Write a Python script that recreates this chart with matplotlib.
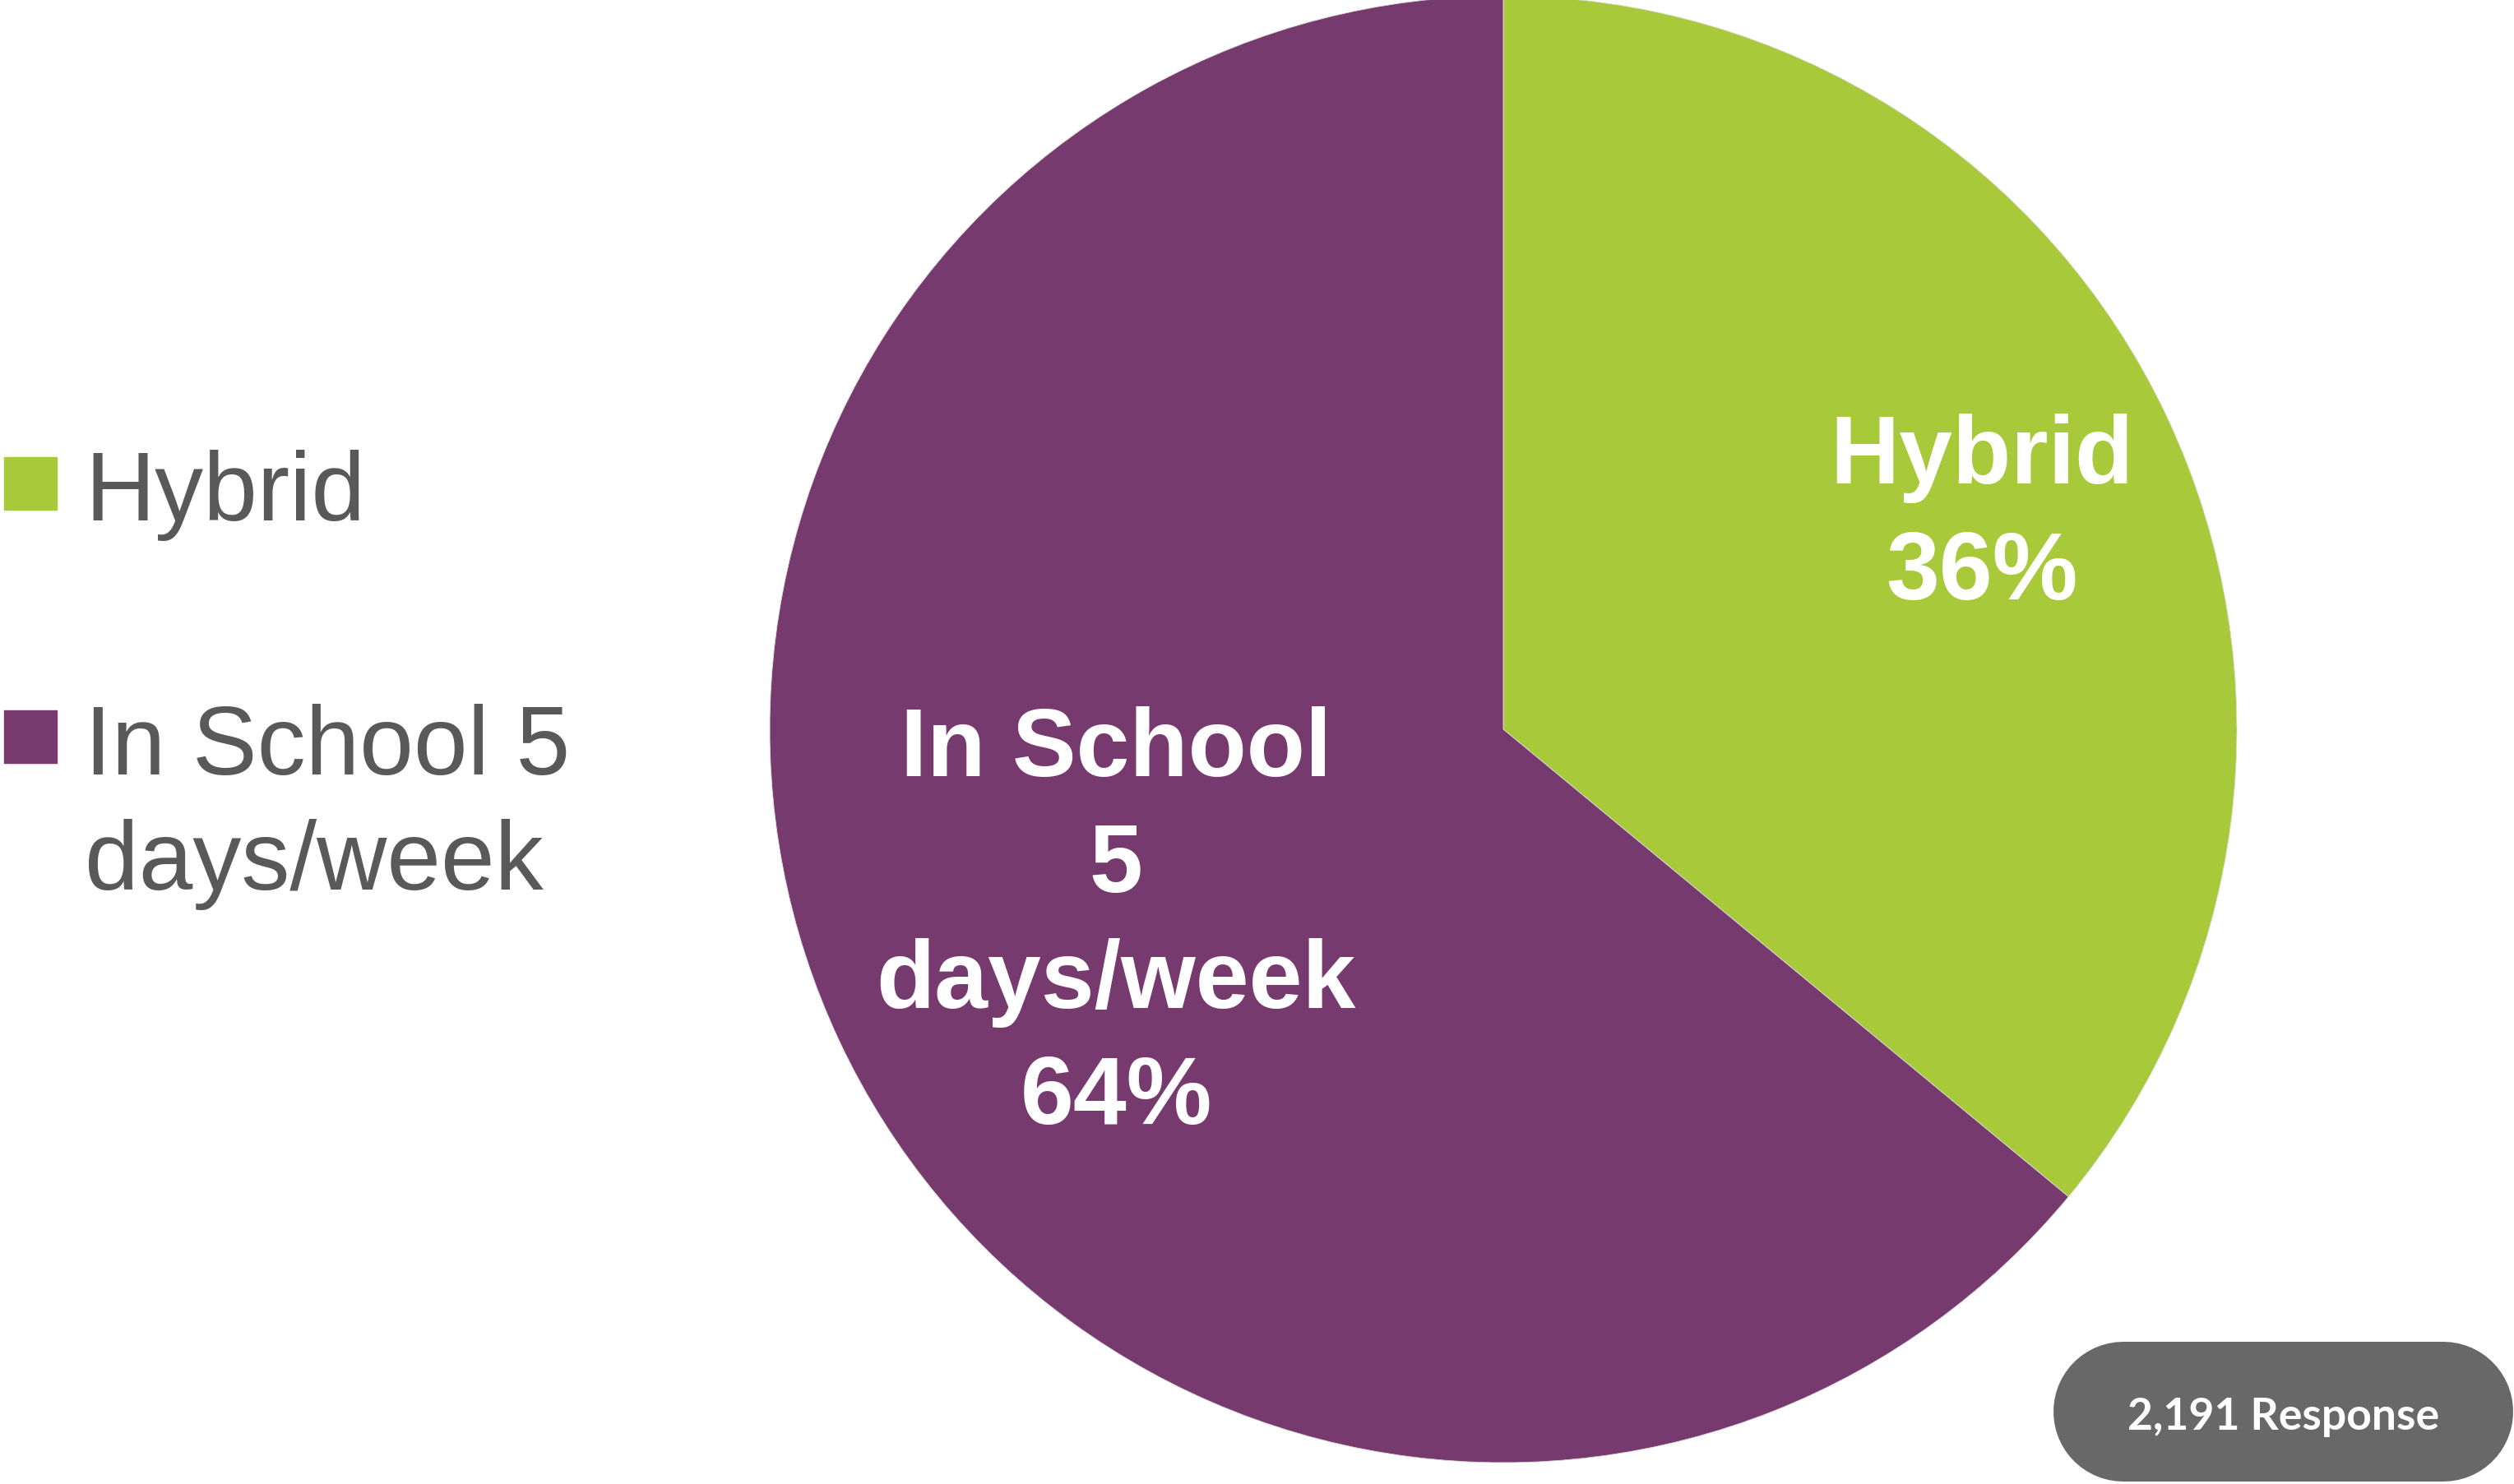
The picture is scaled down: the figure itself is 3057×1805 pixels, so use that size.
import matplotlib.pyplot as plt
from matplotlib.patches import Rectangle

categories = ["Hybrid", "In School 5 days/week"]
shares = [36, 64]
colors = ["#A8C93A", "#773A6E"]
slice_lines = [["Hybrid", "36%"], ["In School", "5", "days/week", "64%"]]
legend_lines = [["Hybrid"], ["In School 5", "days/week"]]
response_note = "2,191 Response"

W, H = 3057, 1806
fig = plt.figure(figsize=(W / 100, H / 100), dpi=100)
plt.rcParams["font.family"] = ["Liberation Sans", "DejaVu Sans"]

# pie axes: centre (1828, 888) px, radius 892 px
cx, cy, r = 1828, 888, 892
ax = fig.add_axes([(cx - r) / W, (H - cy - r) / H, 2 * r / W, 2 * r / H])
ax.pie(shares, colors=colors, startangle=90, counterclock=False, radius=1,
       wedgeprops=dict(linewidth=0.6, edgecolor="#dddddd"))
ax.set_xlim(-1, 1)
ax.set_ylim(-1, 1)
ax.set_aspect("auto")
ax.axis("off")

# label anchors (axes data units), first baseline and line step
label_x = [0.652, -0.528]
label_y0 = [(cy - 588) / r, (cy - 944) / r]
step = 141 / r
for x, y0, lines in zip(label_x, label_y0, slice_lines):
    for i, line in enumerate(lines):
        ax.text(x, y0 - i * step, line, ha="center", va="baseline",
                color="white", fontsize=84, fontweight="bold")

# overlay in pixel coordinates for legend and badge
ov = fig.add_axes([0, 0, 1, 1])
ov.set_xlim(0, W)
ov.set_ylim(H, 0)
ov.axis("off")

square_top = [557, 865]
text_base = [633, 942]
for top, base, col, lines in zip(square_top, text_base, colors, legend_lines):
    ov.add_patch(Rectangle((5, top), 64, 64, color=col))
    for i, line in enumerate(lines):
        ov.text(103, base + i * 140, line, ha="left", va="baseline",
                color="#595959", fontsize=85)

# pill-shaped badge: thick line with round caps (170 px tall)
ov.plot([2582, 2971], [1718, 1718], color="#686868",
        linewidth=170 * 72 / 100, solid_capstyle="round")
ov.text(2777, 1739, response_note, ha="center", va="baseline", color="white",
        fontsize=38.5, fontweight="bold", family=["Lato", "DejaVu Sans"])

fig.savefig("out.png", dpi=100, facecolor="white")
